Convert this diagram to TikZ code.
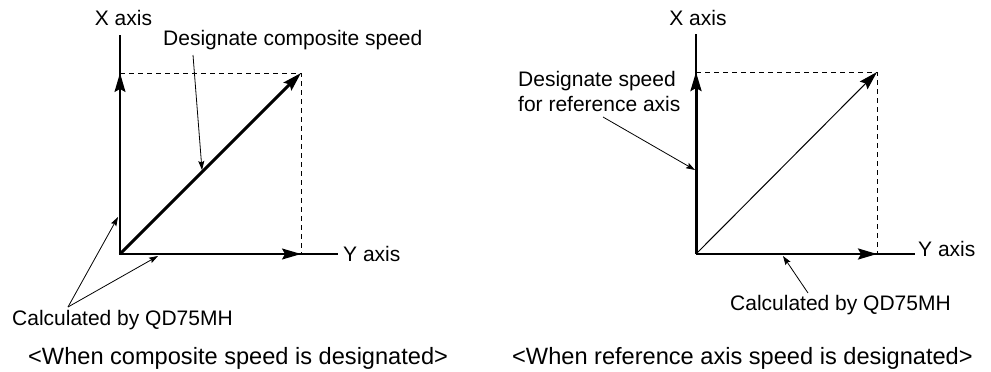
\documentclass[tikz,border=0pt]{standalone}
\usepackage{fontspec}
\setmainfont{Liberation Sans}
\usetikzlibrary{arrows.meta}
\begin{document}
\begin{tikzpicture}[x=1pt,y=-1pt,
  lbl/.style={inner sep=0pt,font=\fontsize{21}{25.5}\selectfont},
  captext/.style={inner sep=0pt,font=\fontsize{23.6}{28}\selectfont},
  axisline/.style={line width=1.5pt},
  vec/.style={line width=1.5pt,-{Stealth[length=19pt,width=11pt,inset=3pt]}},
  thickvec/.style={line width=3pt,-{Stealth[length=19pt,width=11pt,inset=3pt]}},
  guide/.style={line width=1pt,dash pattern=on 5pt off 4pt},
  pointer/.style={line width=0.8pt,-{Stealth[length=9pt,width=6pt,inset=1.5pt]}}]
\useasboundingbox (0,0) rectangle (991,372);
% ---------- left diagram ----------
\coordinate (O1) at (120,254);
\coordinate (X1t) at (120,35);
\coordinate (X1a) at (120,73);
\coordinate (Y1a) at (301,254);
\coordinate (Y1e) at (338,254);
\coordinate (P1) at (301,73);
\draw[axisline] (X1t) -- (O1) -- (Y1e);
\draw[vec] (O1) -- (X1a);
\draw[vec] (O1) -- (Y1a);
\draw[guide] (X1a) -- (P1) -- (Y1a);
\draw[thickvec] (O1) -- (P1);
\node[lbl] (x1) at (123.5,18) {X axis};
\node[lbl,anchor=west] (y1) at (343,254) {Y axis};
\node[lbl,anchor=west] (dcs) at (163,40) {Designate composite speed};
\node[lbl,anchor=west] (c1) at (12,320) {Calculated by QD75MH};
\node[captext,anchor=west] (cap1) at (28,358) {<When composite speed is designated>};
\coordinate (d1s) at (193,55);
\coordinate (d1t) at (202,170);
\draw[pointer] (d1s) -- (d1t);
\coordinate (c1s) at (68,307);
\coordinate (c1a) at (118,217);
\coordinate (c1b) at (158,256);
\draw[pointer] (c1s) -- (c1a);
\draw[pointer] (c1s) -- (c1b);
% ---------- right diagram ----------
\coordinate (O2) at (696,254);
\coordinate (X2t) at (696,34);
\coordinate (X2a) at (696,72);
\coordinate (Y2a) at (877,254);
\coordinate (Y2e) at (915,254);
\coordinate (P2) at (877,72);
\draw[line width=2pt] (X2t) -- (O2);
\draw[line width=2.5pt] (O2) -- (Y2e);
\draw[thickvec] (O2) -- (X2a);
\draw[line width=2.5pt,-{Stealth[length=19pt,width=11pt,inset=3pt]}] (O2) -- (Y2a);
\draw[guide] (X2a) -- (P2) -- (Y2a);
\draw[line width=1pt,-{Stealth[length=19pt,width=11pt,inset=3pt]}] (O2) -- (P2);
\node[lbl] (x2) at (698,18) {X axis};
\node[lbl,anchor=west] (y2) at (918,249) {Y axis};
\node[lbl,anchor=north west,align=left] (dsr) at (518,71) {Designate speed\\for reference axis};
\node[lbl,anchor=west] (c2) at (730,305) {Calculated by QD75MH};
\node[captext,anchor=west] (cap2) at (512,358) {<When reference axis speed is designated>};
\coordinate (d2s) at (603,117);
\coordinate (d2t) at (695,170);
\draw[pointer] (d2s) -- (d2t);
\coordinate (c2s) at (808,293);
\coordinate (c2t) at (783,256);
\draw[pointer] (c2s) -- (c2t);
\end{tikzpicture}
\end{document}
